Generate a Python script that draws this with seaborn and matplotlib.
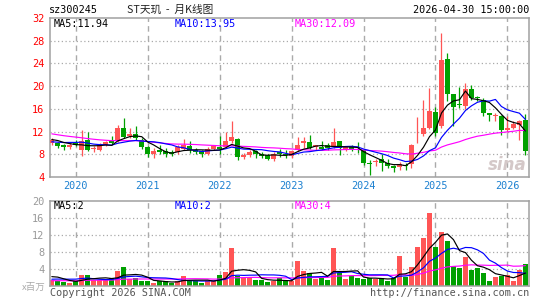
import matplotlib
matplotlib.use('Agg')
import matplotlib.pyplot as plt
import seaborn as sns
import pandas as pd
import numpy as np

# Monthly K-line, Sep 2019 .. Apr 2026 (prices in CNY)
opens = [9.9, 10.0, 9.6, 9.3, 9.9, 8.7, 10.5, 8.9, 8.7, 9.6,
         10.3, 10.3, 12.6, 11.2, 11.5, 10.6, 9.3, 8.0, 8.7, 8.5,
         8.4, 8.4, 9.0, 9.4, 8.7, 8.5, 8.0, 9.0, 9.3, 9.3,
         10.3, 10.7, 7.5, 7.8, 8.5, 8.1, 7.8, 7.1, 8.4, 8.1,
         7.7, 8.7, 9.9, 10.1, 9.2, 9.3, 9.6, 9.3, 10.3, 8.8,
         9.2, 8.9, 8.7, 6.4, 6.7, 7.1, 6.4, 5.9, 5.8, 6.2,
         6.3, 11.5, 11.5, 12.7, 15.5, 12.9, 24.8, 18.6, 16.8, 16.5,
         19.5, 18.0, 17.6, 15.3, 14.7, 14.8, 12.2, 12.6, 13.2, 14.1]
highs = [10.8, 10.2, 9.8, 10.0, 10.5, 12.2, 11.9, 9.5, 10.0, 10.4,
         11.3, 13.2, 14.4, 12.6, 12.9, 10.8, 9.4, 9.1, 9.6, 9.1,
         8.7, 9.6, 10.7, 10.4, 9.1, 8.8, 9.3, 9.6, 11.3, 11.9,
         13.9, 10.8, 8.2, 8.7, 8.8, 8.4, 8.0, 8.4, 9.0, 8.7,
         8.7, 11.0, 11.0, 11.4, 9.7, 10.3, 10.0, 12.6, 10.4, 9.4,
         9.7, 10.2, 8.9, 7.0, 7.1, 8.0, 7.1, 6.2, 6.6, 6.5,
         9.8, 14.5, 17.6, 19.7, 16.3, 29.3, 25.9, 18.7, 19.8, 20.5,
         20.2, 18.3, 17.9, 15.3, 15.2, 14.9, 14.7, 13.8, 14.1, 15.1]
lows = [9.7, 9.1, 8.8, 8.9, 9.4, 7.7, 8.5, 8.4, 8.6, 9.5,
        9.8, 10.1, 10.8, 10.9, 10.6, 8.9, 7.6, 7.4, 8.1, 7.6,
        7.7, 8.0, 8.7, 8.3, 8.0, 7.5, 7.8, 8.8, 8.1, 9.1,
        10.0, 7.0, 7.1, 7.5, 7.4, 7.3, 6.95, 6.8, 7.6, 7.3,
        7.3, 8.5, 9.1, 8.9, 8.7, 8.7, 8.7, 9.1, 7.8, 8.6,
        8.5, 8.3, 6.2, 4.3, 6.0, 5.0, 5.6, 4.8, 5.3, 5.2,
        5.6, 10.0, 11.3, 12.5, 11.3, 12.6, 17.3, 12.9, 16.1, 16.0,
        17.5, 17.4, 14.8, 13.9, 13.9, 11.4, 11.9, 12.4, 10.6, 7.8]
closes = [10.5, 9.5, 9.2, 9.7, 9.6, 10.3, 8.8, 9.1, 9.8, 10.2,
          9.95, 12.7, 11.1, 11.6, 10.8, 9.3, 8.0, 8.5, 8.4, 8.0,
          8.1, 9.2, 9.6, 8.7, 8.4, 8.0, 9.0, 9.4, 9.0, 10.3,
          11.0, 7.5, 7.8, 8.4, 8.0, 7.7, 7.25, 8.1, 8.1, 7.9,
          8.5, 9.7, 10.3, 9.1, 9.6, 9.0, 9.1, 10.1, 9.1, 9.2,
          8.9, 8.7, 6.5, 6.3, 6.8, 6.4, 5.9, 5.5, 6.3, 5.9,
          9.7, 11.6, 12.7, 15.6, 11.8, 24.6, 18.6, 16.4, 16.6, 19.5,
          17.9, 17.9, 15.3, 15.0, 14.8, 12.2, 12.6, 13.4, 13.8, 8.5]
# volume, millions of shares
volumes = [1.5, 1.25, 0.9, 0.7, 1.1, 2.7, 2.7, 1.4, 1.4, 1.4,
           1.9, 3.6, 4.5, 1.7, 1.9, 1.1, 1.1, 0.8, 1.1, 1.1,
           0.6, 1.25, 2.4, 1.4, 1.25, 0.6, 1.25, 1.25, 2.7, 3.2,
           9.0, 2.4, 1.9, 1.9, 1.4, 1.4, 0.9, 1.25, 1.8, 1.1,
           1.1, 6.0, 3.45, 3.1, 1.6, 1.9, 1.5, 9.0, 3.0, 1.7,
           2.35, 1.8, 1.65, 1.8, 1.65, 1.9, 1.25, 1.9, 7.1, 2.2,
           4.4, 9.25, 11.4, 17.1, 9.25, 12.8, 10.7, 4.7, 4.2, 6.9,
           3.85, 4.2, 3.0, 1.25, 2.2, 2.35, 2.6, 1.25, 3.85, 5.2]
# earlier months (before the visible window), only feed the moving averages
prior_close = [14.5, 14.0, 13.6, 13.2, 13.8, 13.1, 12.6, 12.9, 12.4, 12.0,
               11.8, 12.2, 11.5, 11.0, 10.8, 11.3, 11.9, 11.6, 11.2, 10.6,
               10.2, 9.8, 9.5, 9.6, 9.9, 10.4, 10.9, 10.7, 10.5]
prior_vol = [1.2, 0.9, 1.0, 1.3, 1.1, 0.8, 1.0, 1.4, 1.2, 0.9,
             1.0, 1.1, 1.3, 0.9, 1.0, 1.2, 1.1, 0.9, 1.0, 1.1,
             0.9, 1.1, 0.8, 1.0, 1.2, 1.8, 2.9, 2.6, 2.2]
years = ['2020', '2021', '2022', '2023', '2024', '2025', '2026']
year_pos = [4, 16, 28, 40, 52, 64, 76]
price_ticks = [4, 8, 12, 16, 20, 24, 28, 32]
vol_ticks = [4, 8, 12, 16, 20]

RED = '#ff5555'
GREEN = '#00a000'
GRAY = '#a0a0a0'

df = pd.DataFrame({'o': opens, 'h': highs, 'l': lows, 'c': closes, 'v': volumes})
n = len(df)
df['i'] = np.arange(n)
allc = pd.Series(prior_close + closes)
allv = pd.Series(prior_vol + volumes)
k = len(prior_close)
for w in (5, 10, 30):
    df['ma%d' % w] = allc.rolling(w, min_periods=1).mean().values[k:]
    df['vma%d' % w] = allv.rolling(w, min_periods=1).mean().values[k:]
up = df['c'] >= df['o']
cols = np.where(up, RED, GREEN)

sns.set_theme(style='white')
plt.rcParams['font.family'] = ['DejaVu Sans Mono', 'Noto Sans CJK SC']

W, H = 545, 300
fig = plt.figure(figsize=(W / 100, H / 100), dpi=100)
ax = fig.add_axes([50 / W, 1 - 177 / H, 479 / W, 159 / H])
axv = fig.add_axes([50 / W, 1 - 286 / H, 479 / W, 85 / H])

for a in (ax, axv):
    a.set_xlim(-0.3, 79.6)
    for s in a.spines.values():
        s.set_color(GRAY)
        s.set_linewidth(1.1)
    for xp in year_pos:
        a.axvline(xp, color='#aaaaaa', lw=1.0, ls=(0, (4, 3)), zorder=0)
    a.set_xticks([])
    a.tick_params(length=0, pad=4)

# price panel
ax.set_ylim(4, 32)
for yv in price_ticks[1:-1]:
    ax.axhline(yv, color='#aaaaaa', lw=0.9, ls=(0, (1, 2)), zorder=0)
ax.vlines(df['i'], df['l'], df['h'], colors=cols, lw=0.9, zorder=2)
body = np.maximum((df['c'] - df['o']).abs(), 0.16)
ax.bar(df['i'], body, bottom=np.minimum(df['o'], df['c']), width=0.78,
       color=cols, linewidth=0, zorder=3)
sns.lineplot(data=df, x='i', y='ma30', color='#ff00ff', lw=0.85, ax=ax, zorder=4)
sns.lineplot(data=df, x='i', y='ma10', color='#0000ff', lw=0.85, ax=ax, zorder=4)
sns.lineplot(data=df, x='i', y='ma5', color='black', lw=0.85, ax=ax, zorder=4)
ax.set_yticks(price_ticks)
ax.set_yticklabels([str(t) for t in price_ticks], color='red', fontsize=7.4)
ax.set_xlabel('')
ax.set_ylabel('')

# volume panel
axv.set_ylim(0, 20)
for yv in vol_ticks[:-1]:
    axv.axhline(yv, color='#aaaaaa', lw=0.9, ls=(0, (1, 2)), zorder=0)
axv.bar(df['i'], df['v'], width=0.78, color=cols, linewidth=0, zorder=2)
sns.lineplot(data=df, x='i', y='vma30', color='#ff00ff', lw=0.85, ax=axv, zorder=4)
sns.lineplot(data=df, x='i', y='vma10', color='#0000ff', lw=0.85, ax=axv, zorder=4)
sns.lineplot(data=df, x='i', y='vma5', color='black', lw=0.85, ax=axv, zorder=4)
axv.set_yticks(vol_ticks)
axv.set_yticklabels([str(t) for t in vol_ticks], color='#999999', fontsize=7.4)
axv.set_xlabel('')
axv.set_ylabel('')

def px(x, y, s, **kw):
    fig.text(x / W, 1 - y / H, s, va='center', **kw)

fs = 7.3
px(49, 10, 'sz300245', fontsize=fs, color='black')
px(170, 10, 'ST天玑  -  月K线图', fontsize=fs + 0.4, color='#222222', ha='center',
   family=['Noto Sans CJK SC', 'DejaVu Sans'])
px(529, 10, '2026-04-30 15:00:00', fontsize=fs, color='black', ha='right')
px(54, 24, 'MA5:11.94', fontsize=fs, color='black')
px(175, 24, 'MA10:13.95', fontsize=fs, color='#0000ff')
px(295, 24, 'MA30:12.09', fontsize=fs, color='#ff00ff')
px(54, 206, 'MA5:2', fontsize=fs, color='black')
px(175, 206, 'MA10:2', fontsize=fs, color='#0000ff')
px(295, 206, 'MA30:4', fontsize=fs, color='#ff00ff')
for xp, lab in zip(year_pos, years):
    ax.text(xp, -0.058, lab, transform=ax.get_xaxis_transform(), ha='center',
            va='center', fontsize=fs, color='#1c80d0')
px(46, 287, 'x百万', fontsize=6.8, color='#aaaaaa', ha='right',
   family=['Noto Sans CJK SC', 'DejaVu Sans'])
px(50, 293, 'Copyright 2026 SINA.COM', fontsize=fs, color='#555555')
px(529, 293, 'http://finance.sina.com.cn', fontsize=fs, color='#555555', ha='right')
px(527, 165, 'sina', fontsize=12, color='#d4c8c8', ha='right', style='italic',
   weight='bold', family='DejaVu Sans')

fig.savefig('out.png', dpi=100)
